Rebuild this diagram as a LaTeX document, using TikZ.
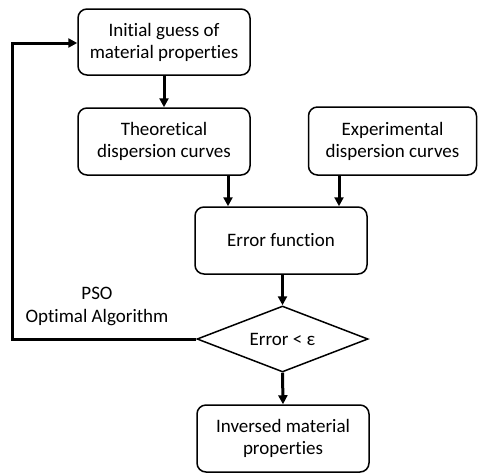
\documentclass[tikz,border=0pt]{standalone}
\usepackage{fontspec}
\setmainfont{Carlito}[RawFeature={-liga}]
\usetikzlibrary{shapes.geometric,arrows.meta}
\begin{document}
\begin{tikzpicture}[x=1pt,y=-1pt,
  box/.style={draw,line width=1.5pt,rounded corners=9pt,align=center,font=\fontsize{19}{22}\selectfont,inner sep=0pt},
  flow/.style={line width=3pt,-{Triangle[length=9pt,width=9pt]}},
  lbl/.style={align=center,font=\fontsize{19}{23}\selectfont}]
\useasboundingbox (0,0) rectangle (478,474);
\node[box,minimum width=172pt,minimum height=66pt] (init) at (164,42) {Initial guess of\\material properties};
\node[box,minimum width=172pt,minimum height=67pt] (theo) at (164,141.5) {Theoretical\\dispersion curves};
\node[box,minimum width=168pt,minimum height=68pt] (exp) at (392.5,141) {Experimental\\dispersion curves};
\node[box,minimum width=172pt,minimum height=67pt] (err) at (281,240.5) {Error function};
\node[draw,line width=1.5pt,diamond,aspect=2.6,minimum width=171pt,minimum height=66pt,inner sep=0pt,font=\fontsize{19}{22}\selectfont] (dec) at (282.5,339) {Error < ε};
\node[box,minimum width=172pt,minimum height=67pt] (inv) at (283,438.5) {Inversed material\\properties};
\draw[flow] (init.south) -- (theo.north);
\draw[flow] (theo.south -| 228,0) -- (err.north -| 228,0);
\draw[flow] (exp.south -| 339,0) -- (err.north -| 339,0);
\draw[flow] (err.south -| dec.north) -- (dec.north);
\draw[flow] (dec.south) -- (inv.north);
\coordinate (c1) at (12,339);
\coordinate (c2) at (12,43);
\draw[flow] (dec.west) -- (c1) -- (c2) -- (init.west |- c2);
\node[lbl] (pso) at (97,306) {PSO\\Optimal Algorithm};
\end{tikzpicture}
\end{document}
